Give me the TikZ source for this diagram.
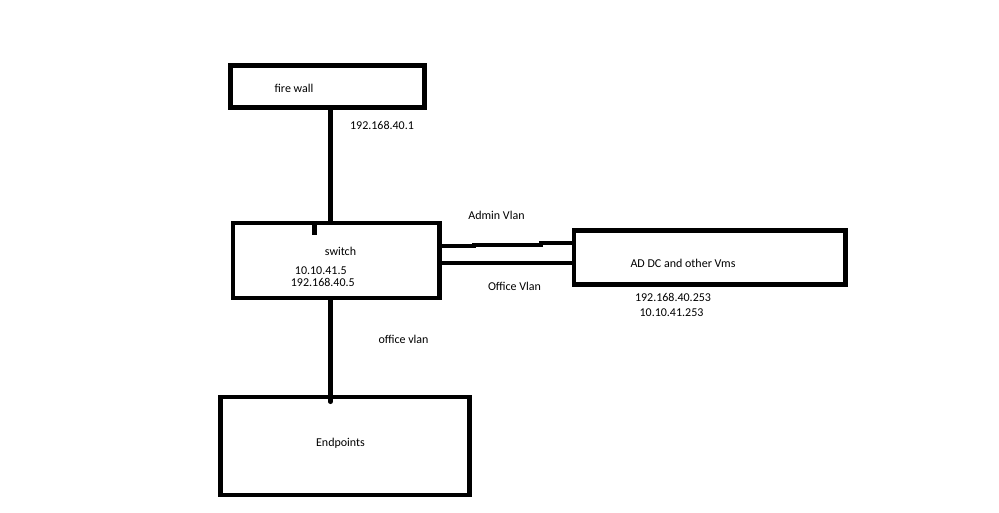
\documentclass[tikz,border=0pt]{standalone}
\usepackage{fontspec}
\setmainfont{Carlito}
\usetikzlibrary{calc}
\begin{document}
\begin{tikzpicture}[x=1pt,y=-1pt,
  box/.style={draw=black,line width=4.5pt,rectangle,inner sep=0pt,fill=white},
  lbl/.style={anchor=base,inner sep=0pt,font=\fontsize{12}{14}\selectfont},
  wire/.style={draw=black,line width=4.5pt},
  hwire/.style={draw=black,line width=4pt}]
\useasboundingbox[fill=white] (0,0) rectangle (999,512);
% boxes
\node[box,minimum width=194pt,minimum height=42pt] (fw) at (327.5,86.5) {};
\node[box,minimum width=206.5pt,minimum height=75pt] (sw) at (336.25,260.5) {};
\node[box,minimum width=271.5pt,minimum height=54pt] (ad) at (709.75,257.5) {};
\node[box,minimum width=249pt,minimum height=98pt] (ep) at (345,446) {};
% helper coordinates
\coordinate (vx) at (330.5,0);
\coordinate (stubx) at (314.5,0);
\coordinate (ay) at (0,246);
\coordinate (ay2) at (0,243);
\coordinate (oy) at (0,263);
% connectors
\draw[wire] (fw.south -| vx) -- (sw.north -| vx);
\draw[wire] (sw.north -| stubx) -- ++(0,14);
\draw[wire,line cap=round] (sw.south -| vx) -- ($(ep.north -| vx)+(0,7)$);
\draw[hwire] (sw.east |- ay) -- ++(32,0) -- ++(0,-1.5) -- ++(67,0) -- ++(0,-1.5) -- (ad.west |- ay2);
\draw[hwire] (sw.east |- oy) -- (ad.west |- oy);
% labels
\node[lbl] (t1) at (294,92) {fire wall};
\node[lbl] (t2) at (382,129.5) {192.168.40.1};
\node[lbl] (t3) at (496.5,219) {Admin Vlan};
\node[lbl] (t4) at (340.5,255) {switch};
\node[lbl] (t5) at (320.8,274) {10.10.41.5};
\node[lbl] (t6) at (322.8,286.5) {192.168.40.5};
\node[lbl] (t7) at (514.5,290) {Office Vlan};
\node[lbl] (t8) at (683,267) {AD DC and other Vms};
\node[lbl] (t9) at (673,301.5) {192.168.40.253};
\node[lbl] (t10) at (671.5,316.5) {10.10.41.253};
\node[lbl] (t11) at (403.5,343.5) {office vlan};
\node[lbl] (t12) at (340.5,446.5) {Endpoints};
\end{tikzpicture}
\end{document}
